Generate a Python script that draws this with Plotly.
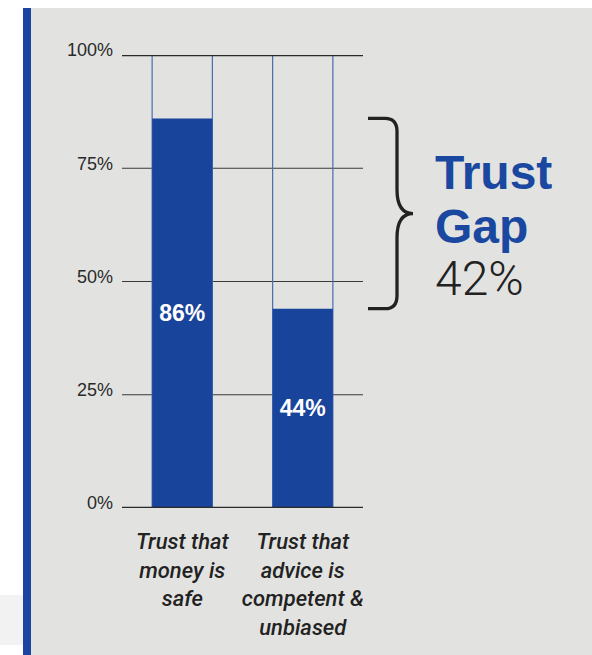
import plotly.graph_objects as go

# ---- data ----
categories = ["Trust that<br>money is<br>safe", "Trust that<br>advice is<br>competent &<br>unbiased"]
values = [86, 44]
value_labels = ["86%", "44%"]
tick_vals = [0, 25, 50, 75, 100]
tick_text = ["0%", "25%", "50%", "75%", "100%"]
gap_title = ["Trust", "Gap"]
gap_value = "42%"

# ---- layout geometry ----
W, H = 592, 655
L, R, T, B = 122, 229, 55, 147
PW, PH = W - L - R, H - T - B
BLUE = "#19449b"
PANEL = "#e2e3e1"
DARK = "#222222"


def px2x(px):
    return (px - L) / PW


def py2y(py):
    return (H - B - py) / PH


UNIT = PH / (tick_vals[-1] - tick_vals[0])  # pixels per data unit

fig = go.Figure()
# outline bars (full height 100%)
fig.add_trace(go.Bar(
    x=categories, y=[tick_vals[-1]] * len(categories), width=0.5,
    marker=dict(color="rgba(0,0,0,0)", line=dict(color="#4a6cb3", width=1.2)),
    hoverinfo="skip", showlegend=False))
# filled bars
fig.add_trace(go.Bar(
    x=categories, y=values, width=0.5,
    marker=dict(color=BLUE, line=dict(width=0)),
    text=["<b>%s</b>" % t for t in value_labels],
    textposition="inside", insidetextanchor="middle", textangle=0,
    constraintext="none",
    textfont=dict(color="white", size=23, family="Liberation Sans"),
    hoverinfo="skip", showlegend=False))

shapes = []
# background panel, stripe
shapes.append(dict(type="rect", xref="paper", yref="paper", layer="below",
                   x0=px2x(23), x1=px2x(W), y0=py2y(H), y1=py2y(8),
                   fillcolor=PANEL, line=dict(width=0)))
shapes.append(dict(type="rect", xref="paper", yref="paper", layer="below",
                   x0=px2x(0), x1=px2x(23), y0=py2y(645), y1=py2y(595),
                   fillcolor="#f2f2f2", line=dict(width=0)))
shapes.append(dict(type="rect", xref="paper", yref="paper", layer="below",
                   x0=px2x(23), x1=px2x(31), y0=py2y(H), y1=py2y(8),
                   fillcolor="#1b45a0", line=dict(width=0)))
# grid lines
for v in tick_vals:
    end = v in (tick_vals[0], tick_vals[-1])
    shapes.append(dict(type="line", xref="x domain", yref="y",
                       x0=0, x1=1, y0=v, y1=v,
                       layer="above" if end else "below",
                       line=dict(color="#2a2a2a" if end else "#3a3a3a",
                                 width=2.6 if end else 1.1)))

# curly brace between the two bar tops
top, bot = values[0], values[1]
mid = (top + bot) / 2
rc = 13 / UNIT   # corner radius
rt = 24 / UNIT   # tip curve length
xa, xc, xs, xt = px2x(368), px2x(385), px2x(397), px2x(413)
path = (f"M {xa},{top} L {xc},{top} Q {xs},{top} {xs},{top - rc} "
        f"L {xs},{mid + rt} Q {xs},{mid} {xt},{mid} "
        f"Q {xs},{mid} {xs},{mid - rt} "
        f"L {xs},{bot + rc} Q {xs},{bot} {xc},{bot} L {xa},{bot}")
shapes.append(dict(type="path", xref="paper", yref="y", path=path,
                   line=dict(color=DARK, width=3.3)))

annotations = []
for txt, cy in zip(gap_title, [172, 226]):
    annotations.append(dict(text="<b>%s</b>" % txt, xref="paper", yref="paper",
                            x=px2x(433), y=py2y(cy), xanchor="left", yanchor="middle",
                            showarrow=False,
                            font=dict(family="Liberation Sans", size=48, color="#1a47a0")))
annotations.append(dict(text=gap_value, xref="paper", yref="paper",
                        x=px2x(433), y=py2y(278), xanchor="left", yanchor="middle",
                        showarrow=False,
                        font=dict(family="Roboto", size=48, color=DARK, weight=300)))

fig.update_layout(
    width=W, height=H,
    margin=dict(l=L, r=R, t=T, b=B, pad=0),
    paper_bgcolor="white", plot_bgcolor="rgba(0,0,0,0)",
    barmode="overlay", showlegend=False,
    shapes=shapes, annotations=annotations,
    xaxis=dict(range=[-0.5, 1.5], showgrid=False, zeroline=False, showline=False,
               ticks="", ticklabelstandoff=18, fixedrange=True,
               tickfont=dict(family="Roboto", size=22, color=DARK,
                             style="italic", weight=500)),
    yaxis=dict(range=[0, 100], tickvals=tick_vals, ticktext=tick_text,
               showgrid=False, zeroline=False, showline=False, ticks="",
               ticklabelstandoff=8, ticklabelshift=-5, fixedrange=True,
               tickfont=dict(family="Liberation Sans", size=18, color="#2a2a2a")),
)

fig.write_html("out.html")
